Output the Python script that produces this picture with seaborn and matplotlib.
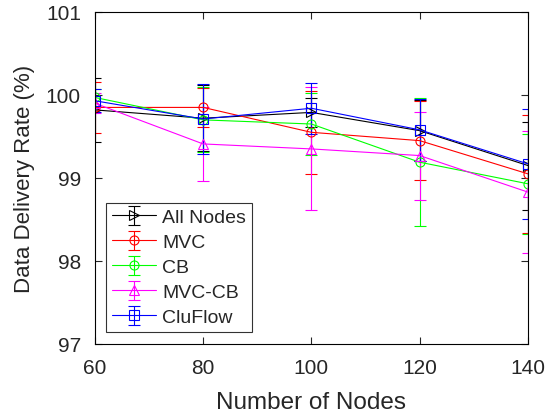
import matplotlib
matplotlib.use('Agg')
import matplotlib.pyplot as plt
import seaborn as sns

# --- data ---
nodes = [60, 80, 100, 120, 140]

all_nodes = [99.82, 99.72, 99.79, 99.57, 99.15]
all_nodes_err = [0.39, 0.40, 0.17, 0.37, 0.53]

mvc = [99.85, 99.85, 99.55, 99.45, 99.05]
mvc_err = [0.31, 0.23, 0.50, 0.48, 0.71]

cb = [99.97, 99.70, 99.65, 99.19, 98.93]
cb_err = [0.10, 0.39, 0.37, 0.77, 0.60]

mvc_cb = [99.90, 99.41, 99.35, 99.27, 98.83]
mvc_cb_err = [0.12, 0.45, 0.74, 0.53, 0.73]

cluflow = [99.93, 99.71, 99.84, 99.58, 99.17]
cluflow_err = [0.14, 0.42, 0.31, 0.37, 0.66]

series = [
    ('All Nodes', all_nodes, all_nodes_err, 'black', '>'),
    ('MVC', mvc, mvc_err, 'red', 'o'),
    ('CB', cb, cb_err, '#00ff00', 'o'),
    ('MVC-CB', mvc_cb, mvc_cb_err, 'magenta', '^'),
    ('CluFlow', cluflow, cluflow_err, 'blue', 's'),
]

sns.set_style('ticks')
plt.rcParams['font.family'] = ['Liberation Sans', 'DejaVu Sans']

fig = plt.figure(figsize=(5.58, 4.14), dpi=100)
ax = fig.add_axes([0.170, 0.1667, 0.776, 0.802])

for name, vals, err, color, marker in series:
    ax.errorbar(nodes, vals, yerr=err, color=color, marker=marker,
                markersize=6.5, markerfacecolor='none', markeredgecolor=color,
                markeredgewidth=0.8, linewidth=0.8, elinewidth=0.8,
                capsize=4, capthick=0.8, label=name)

ax.set_xlim(60, 140)
ax.set_ylim(97, 101)
ax.set_xticks(nodes)
ax.set_yticks([97, 98, 99, 100, 101])
ax.tick_params(direction='in', length=5, width=0.8, labelsize=15,
               top=True, right=True, pad=10)
for s in ax.spines.values():
    s.set_linewidth(0.8)
    s.set_color('black')

ax.set_xlabel('Number of Nodes', fontsize=17.5, labelpad=10)
ax.set_ylabel('Data Delivery Rate (%)', fontsize=16, labelpad=8)

leg = ax.legend(loc='lower left', bbox_to_anchor=(0.025, 0.036),
                fontsize=14, frameon=True, fancybox=False,
                edgecolor='black', borderaxespad=0, handlelength=2.3,
                handletextpad=0.3, labelspacing=0.38, borderpad=0.3)
leg.get_frame().set_linewidth(0.8)

fig.savefig('out.png', dpi=100)
